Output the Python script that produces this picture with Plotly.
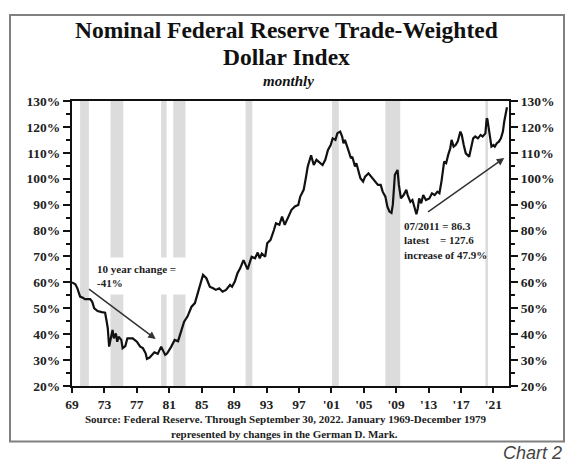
import plotly.graph_objects as go

# ---------------- data ----------------
dates = [
    "1969-01", "1969-06", "1969-09", "1970-01", "1970-05", "1970-08", "1971-04", "1971-07", "1971-10",
    "1972-03", "1972-09", "1973-02", "1973-04", "1973-06", "1973-08", "1973-10", "1974-01", "1974-03",
    "1974-06", "1974-08", "1974-10", "1975-02", "1975-04", "1975-08", "1975-11", "1976-07", "1977-01",
    "1977-06", "1977-10", "1978-02", "1978-04", "1978-08", "1978-10", "1979-03", "1979-08", "1980-01",
    "1980-07", "1980-10", "1981-04", "1981-09", "1982-02", "1982-07", "1982-11", "1983-04", "1983-10",
    "1984-03", "1984-07", "1984-12", "1985-03", "1985-08", "1986-01", "1986-06", "1986-10", "1987-03",
    "1987-08", "1988-01", "1988-07", "1988-10", "1989-02", "1989-06", "1989-10", "1990-03", "1990-09",
    "1991-03", "1991-08", "1991-12", "1992-03", "1992-06", "1992-11", "1993-02", "1993-07", "1993-12",
    "1994-03", "1994-08", "1994-12", "1995-04", "1995-09", "1996-02", "1996-07", "1996-12", "1997-03",
    "1997-08", "1997-11", "1998-02", "1998-07", "1998-11", "1999-03", "1999-08", "1999-12", "2000-04",
    "2000-08", "2000-12", "2001-03", "2001-07", "2001-10", "2002-02", "2002-05", "2002-07", "2002-09",
    "2003-02", "2003-06", "2003-08", "2003-12", "2004-02", "2004-05", "2004-08", "2004-12", "2005-03",
    "2005-08", "2005-12", "2006-05", "2006-10", "2007-02", "2007-05", "2007-09", "2007-12", "2008-03",
    "2008-06", "2008-08", "2008-11", "2009-03", "2009-05", "2009-08", "2009-12", "2010-04", "2010-06",
    "2010-10", "2011-01", "2011-07", "2011-09", "2011-11", "2012-02", "2012-05", "2012-09", "2013-02",
    "2013-06", "2013-10", "2014-02", "2014-05", "2014-08", "2014-12", "2015-03", "2015-06", "2015-09",
    "2015-11", "2016-02", "2016-05", "2016-08", "2016-12", "2017-02", "2017-05", "2017-08", "2018-01",
    "2018-04", "2018-07", "2018-10", "2019-02", "2019-06", "2019-09", "2020-01", "2020-02", "2020-03",
    "2020-04", "2020-06", "2020-08", "2020-10", "2021-01", "2021-03", "2021-06", "2021-09", "2021-12",
    "2022-03", "2022-05", "2022-07", "2022-09",
]
index_pct = [
    60.0, 59.3, 57.7, 54.5, 54.1, 53.5, 53.5, 52.5, 50.0,
    48.9, 48.5, 48.3, 45.5, 42.3, 35.2, 37.8, 41.6, 38.4,
    40.3, 37.1, 39.0, 37.8, 34.6, 35.4, 38.4, 38.4, 37.1,
    35.2, 34.6, 32.6, 30.5, 31.0, 31.5, 33.0, 32.4, 35.2,
    32.0, 32.6, 35.2, 37.8, 37.3, 41.6, 44.8, 46.8, 50.6,
    52.0, 55.8, 60.9, 62.9, 61.6, 58.3, 57.7, 57.1, 57.7,
    56.4, 57.1, 59.0, 58.3, 60.3, 63.5, 65.4, 68.6, 65.0,
    69.9, 69.3, 71.5, 69.3, 71.1, 69.9, 75.1, 76.4, 80.2,
    82.8, 82.2, 85.4, 82.2, 85.4, 88.0, 89.3, 89.9, 93.1,
    95.7, 100.0, 104.7, 109.0, 105.3, 107.3, 106.0, 105.3, 107.3,
    111.1, 113.0, 115.6, 115.0, 117.6, 118.2, 116.3, 113.7, 115.0,
    111.1, 107.9, 108.5, 104.7, 106.0, 102.7, 100.2, 98.9, 100.8,
    102.1, 100.8, 98.9, 97.6, 97.6, 95.0, 93.1, 89.2, 87.3,
    86.8, 90.0, 101.5, 103.4, 97.6, 92.4, 93.7, 95.7, 93.7,
    91.1, 91.8, 86.3, 88.6, 92.4, 90.5, 93.7, 91.8, 92.4,
    94.4, 93.7, 95.0, 94.4, 98.9, 106.6, 106.0, 109.2, 111.7,
    115.0, 112.4, 113.0, 114.3, 118.2, 116.9, 113.0, 109.8, 108.5,
    111.7, 115.6, 116.3, 115.6, 116.9, 116.3, 117.5, 119.5, 123.3,
    123.0, 119.5, 114.3, 112.4, 113.0, 112.4, 113.7, 114.3, 115.6,
    118.2, 122.1, 125.5, 127.6,
]

recession_start = ["1970-01-01", "1973-10-01", "1980-01-01", "1981-07-01",
                   "1990-06-01", "2001-02-01", "2007-09-01", "2020-01-01"]
recession_end = ["1971-02-01", "1975-05-01", "1980-09-01", "1983-01-01",
                 "1991-04-01", "2001-12-01", "2009-07-01", "2020-05-01"]

tick_years = ["1969", "1973", "1977", "1981", "1985", "1989", "1993", "1997",
              "2001", "2005", "2009", "2013", "2017", "2021"]
tick_labels = ["69", "73", "77", "81", "85", "89", "93", "97",
               "'01", "'05", "'09", "'13", "'17", "'21"]
y_ticks = [20, 30, 40, 50, 60, 70, 80, 90, 100, 110, 120, 130]
y_tick_labels = [f"{v}%" for v in y_ticks]

# ---------------- figure ----------------
SERIF = "Liberation Serif, Times New Roman, serif"
OFF = 8                      # page body margin
W, H = 587 - OFF, 466 - OFF
L, R, T, B = 72 - OFF, 78, 101 - OFF, 80
PW, PH = W - L - R, H - T - B


def px_x(p):  # page pixel -> paper
    return (p - OFF - L) / PW


def px_y(p):
    return (H - B - (p - OFF)) / PH


x_dates = [d + "-01" for d in dates]

fig = go.Figure()
fig.add_trace(go.Scatter(x=x_dates, y=index_pct, mode="lines",
                         line=dict(color="#111111", width=2.2),
                         showlegend=False, hoverinfo="skip"))
fig.add_trace(go.Scatter(x=x_dates, y=index_pct, mode="lines", yaxis="y2",
                         line=dict(color="rgba(0,0,0,0)", width=0),
                         showlegend=False, hoverinfo="skip"))

for s, e in zip(recession_start, recession_end):
    fig.add_shape(type="rect", xref="x", yref="paper", x0=s, x1=e, y0=0, y1=1,
                  fillcolor="#dcdcdc", line=dict(width=0), layer="below")

tickfont = dict(family=SERIF, size=13.5, color="#222222", weight="bold")
yaxis_common = dict(range=[20, 130], tickmode="array", tickvals=y_ticks, ticktext=y_tick_labels,
                    ticks="outside", ticklen=7, tickwidth=1.5, tickcolor="#111",
                    minor=dict(dtick=5, ticks="outside", ticklen=4, tickwidth=1.5,
                               tickcolor="#111", showgrid=False),
                    showline=True, linecolor="#111", linewidth=2,
                    showgrid=False, zeroline=False, tickfont=tickfont, fixedrange=True)

fig.update_layout(
    width=W, height=H,
    margin=dict(l=L, r=R, t=T, b=B, pad=0),
    paper_bgcolor="white", plot_bgcolor="white",
    font=dict(family=SERIF, color="#222222"),
    xaxis=dict(type="date", range=["1969-01-01", "2022-12-01"],
               tickvals=[y + "-01-01" for y in tick_years], ticktext=tick_labels,
               ticks="outside", ticklen=5, tickwidth=1.5, tickcolor="#111",
               showline=True, linecolor="#111", linewidth=2, mirror=True,
               showgrid=False, zeroline=False, tickfont=tickfont),
    yaxis=dict(side="left", **yaxis_common),
    yaxis2=dict(side="right", overlaying="y", anchor="x", **yaxis_common),
)

# frame around the chart
fig.add_shape(type="rect", xref="paper", yref="paper",
              x0=px_x(10), x1=px_x(564), y0=px_y(441.5), y1=px_y(15),
              line=dict(color="#808080", width=2), fillcolor="rgba(0,0,0,0)", layer="above")

# titles
fig.add_annotation(xref="paper", yref="paper", x=px_x(286), y=px_y(30),
                   text="Nominal Federal Reserve Trade-Weighted", showarrow=False,
                   xanchor="center", yanchor="middle",
                   font=dict(family=SERIF, size=23.5, color="#111", weight="bold"))
fig.add_annotation(xref="paper", yref="paper", x=px_x(286), y=px_y(57),
                   text="Dollar Index", showarrow=False,
                   xanchor="center", yanchor="middle",
                   font=dict(family=SERIF, size=23.5, color="#111", weight="bold"))
fig.add_annotation(xref="paper", yref="paper", x=px_x(288), y=px_y(81),
                   text="<i>monthly</i>", showarrow=False,
                   xanchor="center", yanchor="middle",
                   font=dict(family=SERIF, size=15, color="#111", weight="bold"))

# footer
fig.add_annotation(xref="paper", yref="paper", x=px_x(286), y=px_y(419),
                   text="Source: Federal Reserve. Through September 30, 2022. January 1969-December 1979",
                   showarrow=False, xanchor="center", yanchor="middle",
                   font=dict(family=SERIF, size=11, color="#222", weight="bold"))
fig.add_annotation(xref="paper", yref="paper", x=px_x(284), y=px_y(434),
                   text="represented by changes in the German D. Mark.",
                   showarrow=False, xanchor="center", yanchor="middle",
                   font=dict(family=SERIF, size=11, color="#222", weight="bold"))
fig.add_annotation(xref="paper", yref="paper", x=px_x(564), y=px_y(453),
                   text="<i>Chart 2</i>", showarrow=False, xanchor="right", yanchor="middle",
                   font=dict(family="Liberation Sans, Arial, sans-serif", size=18, color="#444"))

# in-chart notes
fig.add_annotation(xref="x", yref="y", x="1971-11-01", y=62.5,
                   text="10 year change =<br>-41%", showarrow=False,
                   xanchor="left", yanchor="middle", align="left",
                   width=95, height=34, bgcolor="white",
                   font=dict(family=SERIF, size=11, color="#222", weight="bold"))
fig.add_annotation(xref="x", yref="y", x="1979-05-01", y=38.1,
                   axref="x", ayref="y", ax="1970-12-01", ay=57.8,
                   text="", showarrow=True, arrowhead=2, arrowsize=1,
                   arrowwidth=1.5, arrowcolor="#333")

fig.add_annotation(xref="x", yref="y", x="2009-09-01", y=76.2,
                   text="07/2011 = 86.3<br>latest\u00a0\u00a0\u00a0\u00a0= 127.6<br>increase of 47.9%",
                   showarrow=False, xanchor="left", yanchor="middle", align="left",
                   font=dict(family=SERIF, size=11, color="#222", weight="bold"))
fig.add_annotation(xref="x", yref="y", x="2022-05-01", y=108.0,
                   axref="x", ayref="y", ax="2012-10-01", ay=86.8,
                   text="", showarrow=True, arrowhead=2, arrowsize=1,
                   arrowwidth=1.5, arrowcolor="#333")

fig.write_html("out.html")
